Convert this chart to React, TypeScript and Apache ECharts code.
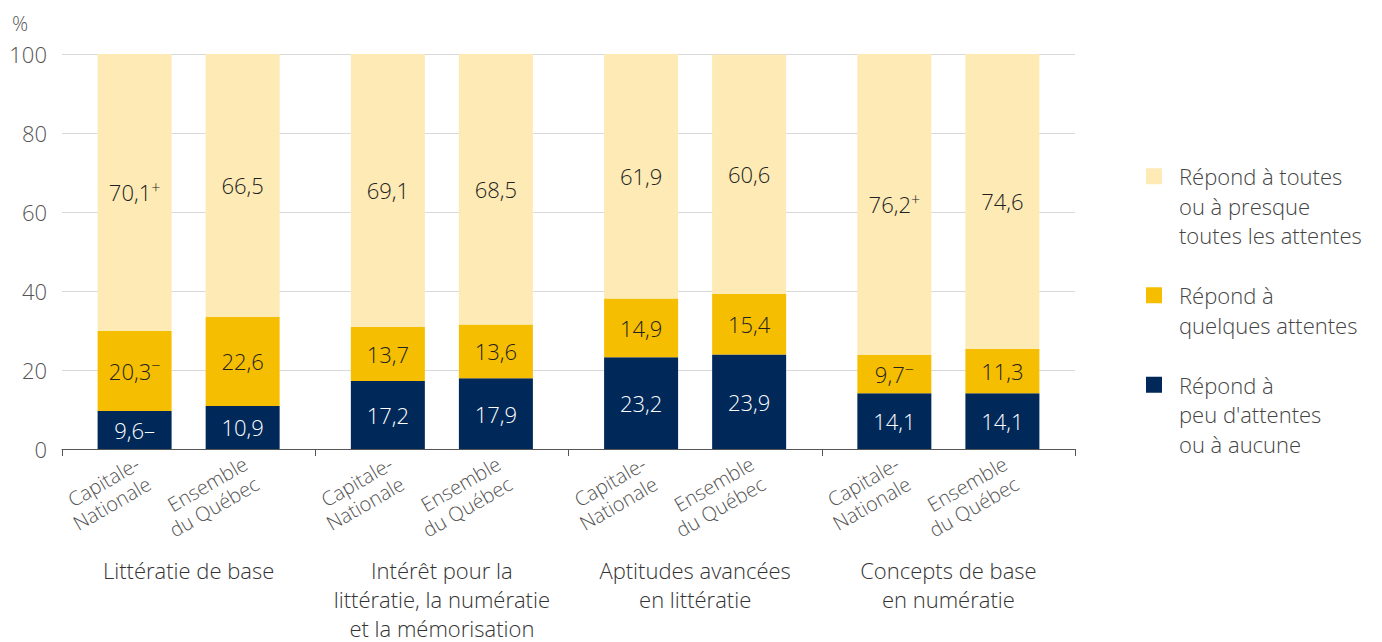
import React, { useEffect, useRef } from "react";
import * as echarts from "echarts";

const groups = [
  "Littératie de base",
  "Intérêt pour la\nlittératie, la numératie\net la mémorisation",
  "Aptitudes avancées\nen littératie",
  "Concepts de base\nen numératie",
];
const regions = ["Capitale-\nNationale", "Ensemble\ndu Québec"];
const seriesNames = [
  "Répond à toutes\nou à presque\ntoutes les attentes",
  "Répond à\nquelques attentes",
  "Répond à\npeu d'attentes\nou à aucune",
];
// Capitale-Nationale
const capPeu = [9.6, 17.2, 23.2, 14.1];
const capQuelques = [20.3, 13.7, 14.9, 9.7];
const capToutes = [70.1, 69.1, 61.9, 76.2];
const capPeuFlag = ["–", "", "", ""];
const capQuelquesFlag = ["−", "", "", "−"];
const capToutesFlag = ["+", "", "", "+"];
// Ensemble du Québec
const qcPeu = [10.9, 17.9, 23.9, 14.1];
const qcQuelques = [22.6, 13.6, 15.4, 11.3];
const qcToutes = [66.5, 68.5, 60.6, 74.6];
const yTicks = [0, 20, 40, 60, 80, 100];

const LIGHT = "#FDEAB4";
const GOLD = "#F6BE00";
const NAVY = "#00295A";
const FONT = "Open Sans";
const W = 300;

const fmt = (v: number) => v.toFixed(1).replace(".", ",");

function valueLabel(color: string, flags: string[] | null, inlineFlag = false) {
  return {
    show: true,
    position: "inside",
    fontFamily: FONT,
    fontWeight: W,
    color,
    formatter: (p: any) => {
      const f = flags ? flags[p.dataIndex] : "";
      if (!f) return `{v|${fmt(p.value)}}`;
      if (inlineFlag) return `{v|${fmt(p.value)}${f}}`;
      return `{v|${fmt(p.value)}}{s|${f}}`;
    },
    rich: {
      v: { fontSize: 22, color, fontFamily: FONT, fontWeight: W },
      s: { fontSize: 16, color, fontFamily: FONT, fontWeight: W, verticalAlign: "top", lineHeight: 27 },
    },
  };
}

function regionLabelSeries(stack: string, regionName: string) {
  return {
    type: "bar",
    name: "__label_" + stack,
    stack,
    barWidth: 74,
    barGap: "46%",
    data: groups.map(() => 0),
    itemStyle: { color: "rgba(0,0,0,0)" },
    silent: true,
    label: {
      show: true,
      position: "bottom",
      distance: 28,
      offset: [10, 0],
      rotate: 30,
      align: "right",
      verticalAlign: "middle",
      fontFamily: FONT,
      fontWeight: W,
      fontSize: 20,
      lineHeight: 23,
      color: "#555",
      formatter: () => regionName,
    },
  };
}

export default function App() {
  const ref = useRef<HTMLDivElement>(null);
  useEffect(() => {
    if (!ref.current) return;
    const chart = echarts.init(ref.current, undefined, { renderer: "svg" });
    const barCommon = { barWidth: 74, barGap: "46%" };
    const icon1 = "path://M0,6.5h16v16h-16Z M0,0h0.01v0.01h-0.01Z M27.99,87.99h0.01v0.01h-0.01Z";
    const icon2 = "path://M0,21.25h16v16h-16Z M0,0h0.01v0.01h-0.01Z M27.99,87.99h0.01v0.01h-0.01Z";
    const option: any = {
      animation: false,
      textStyle: { fontFamily: FONT, fontWeight: W },
      grid: { left: 62, right: 307, top: 54, bottom: 185 },
      legend: {
        orient: "vertical",
        left: 1146,
        top: 161.5,
        padding: 0,
        itemWidth: 28,
        itemHeight: 88,
        itemGap: 16,
        selectedMode: false,
        textStyle: { fontFamily: FONT, fontWeight: W, fontSize: 22, lineHeight: 29.5, color: "#444" },
        data: [
          { name: seriesNames[0], icon: icon1 },
          { name: seriesNames[1], icon: icon2 },
          { name: seriesNames[2], icon: icon1 },
        ],
      },
      xAxis: {
        type: "category",
        data: groups,
        axisLine: { lineStyle: { color: "#555", width: 1 } },
        axisTick: { show: true, length: 7, lineStyle: { color: "#555" } },
        axisLabel: {
          interval: 0,
          margin: 106,
          fontFamily: FONT,
          fontWeight: W,
          fontSize: 22,
          lineHeight: 29,
          color: "#333",
        },
      },
      yAxis: {
        type: "value",
        min: yTicks[0],
        max: yTicks[yTicks.length - 1],
        interval: 20,
        name: "%",
        nameLocation: "end",
        nameGap: 31,
        nameTextStyle: {
          fontFamily: FONT,
          fontWeight: W,
          fontSize: 20,
          color: "#555",
          align: "left",
          verticalAlign: "middle",
          padding: [0, 0, 0, -50],
        },
        axisLine: { show: false },
        axisTick: { show: false },
        splitLine: { lineStyle: { color: "#d9d9d9" } },
        axisLabel: { fontFamily: FONT, fontWeight: W, fontSize: 22, color: "#555", margin: 15 },
      },
      series: [
        regionLabelSeries("cap", regions[0]),
        { ...barCommon, type: "bar", name: seriesNames[2], stack: "cap", data: capPeu, itemStyle: { color: NAVY }, label: valueLabel("#fff", capPeuFlag, true) },
        { ...barCommon, type: "bar", name: seriesNames[1], stack: "cap", data: capQuelques, itemStyle: { color: GOLD }, label: valueLabel("#222", capQuelquesFlag) },
        { ...barCommon, type: "bar", name: seriesNames[0], stack: "cap", data: capToutes, itemStyle: { color: LIGHT }, label: valueLabel("#222", capToutesFlag) },
        regionLabelSeries("qc", regions[1]),
        { ...barCommon, type: "bar", name: seriesNames[2], stack: "qc", data: qcPeu, itemStyle: { color: NAVY }, label: valueLabel("#fff", null) },
        { ...barCommon, type: "bar", name: seriesNames[1], stack: "qc", data: qcQuelques, itemStyle: { color: GOLD }, label: valueLabel("#222", null) },
        { ...barCommon, type: "bar", name: seriesNames[0], stack: "qc", data: qcToutes, itemStyle: { color: LIGHT }, label: valueLabel("#222", null) },
      ],
    };
    chart.setOption(option);
    return () => chart.dispose();
  }, []);
  return (
    <div
      ref={ref}
      style={{ position: "fixed", left: 0, top: 0, width: 1382, height: 642, background: "#fff" }}
    />
  );
}
